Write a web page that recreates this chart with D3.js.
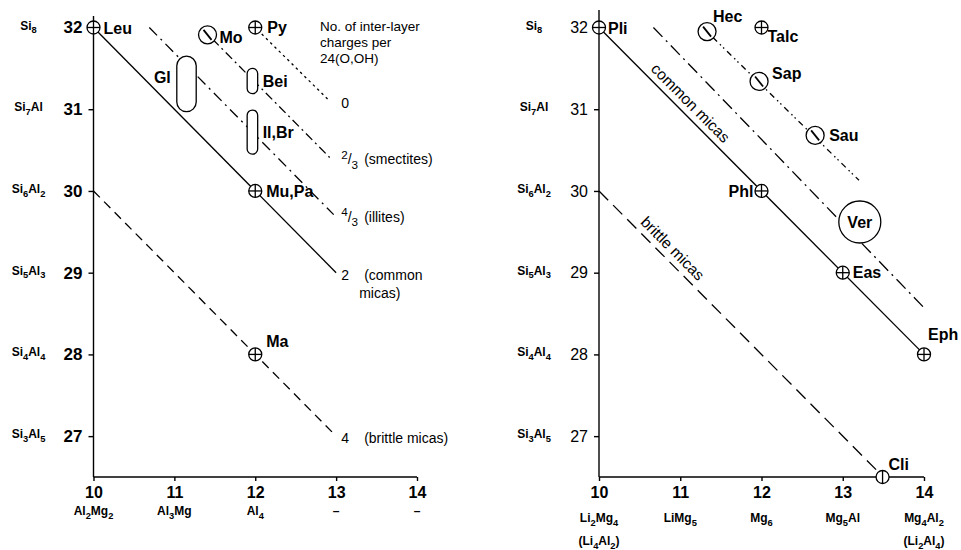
<!DOCTYPE html>
<html>
<head>
  <script src="https://d3js.org/d3.v7.min.js"></script>
  <style>
    body { margin: 0; background: #fff; }
    svg { font-family: "Liberation Sans", Arial, sans-serif; }
    .axis path, .axis line { stroke: #000; stroke-width: 1.4px; }
    .lbl { font-size: 16px; font-weight: bold; }
    .note { font-size: 14px; }
  </style>
</head>
<body>
<svg id="chart" width="961" height="550"></svg>
<script>
var xTicks = [10, 11, 12, 13, 14];
var yTicks = [32, 31, 30, 29, 28, 27];
var yFormulas = ['Si_{8}', 'Si_{7}Al', 'Si_{6}Al_{2}', 'Si_{5}Al_{3}', 'Si_{4}Al_{4}', 'Si_{3}Al_{5}'];
var leftXSub = ['Al_{2}Mg_{2}', 'Al_{3}Mg', 'Al_{4}', '\u2013', '\u2013'];
var rightXSub = ['Li_{2}Mg_{4}', 'LiMg_{5}', 'Mg_{6}', 'Mg_{5}Al', 'Mg_{4}Al_{2}'];
var rightXSub2 = ['(Li_{4}Al_{2})', '', '', '', '(Li_{2}Al_{4})'];

// lines of equal inter-layer charge, left panel
var leftLines = [
  { charge: '0', note: '', from: [12.08, 31.92], to: [12.92, 31.1] },
  { charge: '^{2}/_{3}', note: '(smectites)', from: [11.47, 31.86], to: [12.92, 30.41] },
  { charge: '^{4}/_{3}', note: '(illites)', from: [10.69, 32], to: [12.97, 29.71] },
  { charge: '2', note: '(common|micas)', from: [10, 32], to: [13, 29] },
  { charge: '4', note: '(brittle micas)', from: [10, 30], to: [13, 27] }
];
var leftMinerals = [
  { name: 'Leu', x: 10, y: 32, kind: 'plus' },
  { name: 'Mo', x: 11.41, y: 31.91, kind: 'slash' },
  { name: 'Py', x: 12, y: 32, kind: 'plus' },
  { name: 'Mu,Pa', x: 12, y: 30, kind: 'plus' },
  { name: 'Ma', x: 12, y: 28, kind: 'plus' }
];
var leftRanges = [
  { name: 'Gl', x: [11.03, 11.27], y: [30.97, 31.65] },
  { name: 'Bei', x: [11.9, 12.03], y: [31.19, 31.5] },
  { name: 'Il,Br', x: [11.9, 12.03], y: [30.45, 30.99] }
];

// right panel
var rightLines = [
  { key: 'common', from: [10, 32], to: [14, 28] },
  { key: 'brittle', from: [10, 30], to: [13.49, 26.51] },
  { key: 'vermic', from: [10.67, 32], to: [14.02, 28.55] },
  { key: 'smect', from: [11.4, 31.88], to: [13.2, 30.13] }
];
var rightMinerals = [
  { name: 'Pli', x: 10, y: 32, kind: 'plus' },
  { name: 'Hec', x: 11.33, y: 31.95, kind: 'slash' },
  { name: 'Talc', x: 12, y: 32, kind: 'plus' },
  { name: 'Sap', x: 11.97, y: 31.34, kind: 'slash' },
  { name: 'Sau', x: 12.66, y: 30.68, kind: 'slash' },
  { name: 'Phl', x: 12, y: 30, kind: 'plus' },
  { name: 'Ver', x: 13.21, y: 29.62, kind: 'ring' },
  { name: 'Eas', x: 13, y: 29, kind: 'plus' },
  { name: 'Eph', x: 14, y: 28, kind: 'plus' },
  { name: 'Cli', x: 13.49, y: 26.5, kind: 'bar' }
];
var captions = [
  { text: 'common micas', x: 11.08, y: 31.03 },
  { text: 'brittle micas', x: 10.86, y: 29.25 }
];

// styles / label placement
var dashes = {
  '0': '2.5,3.5', '^{2}/_{3}': '9,4,2,4', '^{4}/_{3}': '11,5,2,5', '2': null, '4': '9,6',
  common: null, brittle: '13,7', vermic: '13,5,2,5', smect: '6,4,1.5,3,1.5,4'
};
var labelPos = {
  Leu: [10, 6, 'start'], Mo: [12, 8, 'start'], Py: [12, 5, 'start'],
  'Mu,Pa': [11, 6, 'start'], Ma: [11, -7, 'start'],
  Pli: [9, 6, 'start'], Hec: [6, -10, 'start'], Talc: [6, 14, 'start'],
  Sap: [13, -2, 'start'], Sau: [14, 6, 'start'], Phl: [-8, 6, 'end'],
  Eas: [10, 5, 'start'], Eph: [4, -14, 'start'], Cli: [6, -7, 'start']
};

var svg = d3.select('#chart');

function rich(text, str, size) {
  var re = /([_^])\{([^}]*)\}|([^_^]+)/g, m, shift = 0;
  while ((m = re.exec(str))) {
    var t = text.append('tspan');
    if (m[1]) {
      var d = m[1] === '_' ? 0.3 * size : -0.38 * size;
      t.attr('dy', d - shift).style('font-size', (0.78 * size) + 'px').text(m[2]);
      shift = d;
    } else {
      t.attr('dy', -shift).text(m[3]);
      shift = 0;
    }
  }
}

function marker(g, px, py, kind) {
  var s = g.append('g').attr('fill', 'none').attr('stroke', '#000').attr('stroke-width', 1.3);
  if (kind === 'plus' || kind === 'bar') {
    s.append('circle').attr('cx', px).attr('cy', py).attr('r', 6.5).attr('fill', '#fff');
    s.append('line').attr('x1', px).attr('x2', px).attr('y1', py - 6.5).attr('y2', py + 6.5);
    if (kind === 'plus') s.append('line').attr('x1', px - 6.5).attr('x2', px + 6.5).attr('y1', py).attr('y2', py);
  } else if (kind === 'slash') {
    s.append('circle').attr('cx', px).attr('cy', py).attr('r', 9).attr('fill', '#fff');
    s.append('line').attr('x1', px - 4).attr('y1', py - 5).attr('x2', px + 4).attr('y2', py + 5).attr('stroke-width', 1.8);
  } else if (kind === 'ring') {
    s.append('circle').attr('cx', px).attr('cy', py).attr('r', 21).attr('fill', '#fff');
  }
}

function panel(x0, x1, yTop, bold) {
  var x = d3.scaleLinear().domain([10, 14]).range([x0, x1]);
  var y = d3.scaleLinear().domain([26.5, 32]).range([477, 27.5]);
  var g = svg.append('g');

  g.append('line').attr('x1', x0).attr('x2', x0).attr('y1', yTop).attr('y2', 477)
    .attr('stroke', '#000').attr('stroke-width', 1.4);
  g.append('line').attr('x1', x0).attr('x2', x1).attr('y1', 477).attr('y2', 477)
    .attr('stroke', '#000').attr('stroke-width', 1.4);

  var ya = g.append('g').attr('class', 'axis').attr('transform', 'translate(' + x0 + ',0)')
    .call(d3.axisLeft(y).tickValues(yTicks).tickSize(5).tickPadding(6).tickFormat(d3.format('d')));
  ya.select('.domain').remove();
  ya.selectAll('text').attr('font-size', bold ? 17 : 16).attr('font-weight', bold ? 'bold' : 'normal')
    .attr('font-family', 'inherit').attr('fill', '#000');

  var xa = g.append('g').attr('class', 'axis').attr('transform', 'translate(0,477)')
    .call(d3.axisBottom(x).tickValues(xTicks).tickSize(4).tickPadding(6).tickFormat(d3.format('d')));
  xa.select('.domain').remove();
  xa.selectAll('text').attr('font-size', 16).attr('font-weight', 'bold')
    .attr('font-family', 'inherit').attr('fill', '#000');

  yTicks.forEach(function (v, i) {
    var t = g.append('text').attr('x', x0 - 65).attr('y', y(v) + 2)
      .attr('text-anchor', 'middle').attr('font-size', 12).attr('font-weight', 'bold');
    rich(t, yFormulas[i], 12);
  });
  return { g: g, x: x, y: y };
}

// ---------- left panel ----------
var L = panel(93.5, 417, 16, true);

leftLines.forEach(function (d) {
  L.g.append('line')
    .attr('x1', L.x(d.from[0])).attr('y1', L.y(d.from[1]))
    .attr('x2', L.x(d.to[0])).attr('y2', L.y(d.to[1]))
    .attr('stroke', '#000').attr('stroke-width', 1.3)
    .attr('stroke-dasharray', dashes[d.charge]);
  var by = L.y(d.to[1]) + 7;
  var c = L.g.append('text').attr('class', 'note').attr('x', L.x(13) + 5).attr('y', by)
    .attr('font-size', 15);
  rich(c, d.charge, 15);
  d.note.split('|').forEach(function (s, i) {
    L.g.append('text').attr('class', 'note').attr('x', L.x(13) + (i ? 23 : 28)).attr('y', by + i * 18).text(s);
  });
});

leftRanges.forEach(function (d) {
  var w = L.x(d.x[1]) - L.x(d.x[0]);
  L.g.append('rect').attr('x', L.x(d.x[0])).attr('y', L.y(d.y[1]))
    .attr('width', w).attr('height', L.y(d.y[0]) - L.y(d.y[1]))
    .attr('rx', w / 2).attr('ry', w / 2)
    .attr('fill', '#fff').attr('stroke', '#000').attr('stroke-width', 1.3);
});
L.g.append('text').attr('class', 'lbl').attr('x', L.x(11.03) - 6).attr('y', L.y(31.4) + 6)
  .attr('text-anchor', 'end').attr('font-size', 17).text('Gl');
L.g.append('text').attr('class', 'lbl').attr('x', L.x(12.03) + 5).attr('y', L.y(31.35) + 6).text('Bei');
L.g.append('text').attr('class', 'lbl').attr('x', L.x(12.03) + 5).attr('y', L.y(30.72) + 6).text('Il,Br');

leftMinerals.forEach(function (d) {
  marker(L.g, L.x(d.x), L.y(d.y), d.kind);
  var p = labelPos[d.name];
  L.g.append('text').attr('class', 'lbl').attr('font-size', 17)
    .attr('x', L.x(d.x) + p[0]).attr('y', L.y(d.y) + p[1]).attr('text-anchor', p[2]).text(d.name);
});

['No. of inter-layer', 'charges per', '24(O,OH)'].forEach(function (s, i) {
  L.g.append('text').attr('x', 320).attr('y', 31 + i * 16).attr('font-size', 13.5).text(s);
});

leftXSub.forEach(function (s, i) {
  var t = L.g.append('text').attr('x', L.x(xTicks[i])).attr('y', 515)
    .attr('text-anchor', 'middle').attr('font-size', 12).attr('font-weight', 'bold');
  rich(t, s, 12);
});

// ---------- right panel ----------
var R = panel(599, 924, 10, false);

rightLines.forEach(function (d) {
  R.g.append('line')
    .attr('x1', R.x(d.from[0])).attr('y1', R.y(d.from[1]))
    .attr('x2', R.x(d.to[0])).attr('y2', R.y(d.to[1]))
    .attr('stroke', '#000').attr('stroke-width', 1.3)
    .attr('stroke-dasharray', dashes[d.key]);
});

var ang = Math.atan2(R.y(31) - R.y(32), R.x(11) - R.x(10)) * 180 / Math.PI;
captions.forEach(function (d) {
  R.g.append('text').attr('text-anchor', 'middle').attr('font-size', 15.5)
    .attr('transform', 'translate(' + R.x(d.x) + ',' + R.y(d.y) + ') rotate(' + ang + ')')
    .text(d.text);
});

rightMinerals.forEach(function (d) {
  var px = R.x(d.x), py = R.y(d.y);
  marker(R.g, px, py, d.kind);
  if (d.kind === 'ring') {
    R.g.append('text').attr('class', 'lbl').attr('x', px).attr('y', py + 6)
      .attr('text-anchor', 'middle').text(d.name);
    return;
  }
  var p = labelPos[d.name];
  R.g.append('text').attr('class', 'lbl')
    .attr('x', px + p[0]).attr('y', py + p[1]).attr('text-anchor', p[2]).text(d.name);
});

rightXSub.forEach(function (s, i) {
  var t = R.g.append('text').attr('x', R.x(xTicks[i])).attr('y', 522)
    .attr('text-anchor', 'middle').attr('font-size', 12).attr('font-weight', 'bold');
  rich(t, s, 12);
  if (rightXSub2[i]) {
    var t2 = R.g.append('text').attr('x', R.x(xTicks[i])).attr('y', 545)
      .attr('text-anchor', 'middle').attr('font-size', 12).attr('font-weight', 'bold');
    rich(t2, rightXSub2[i], 12);
  }
});
</script>
</body>
</html>
